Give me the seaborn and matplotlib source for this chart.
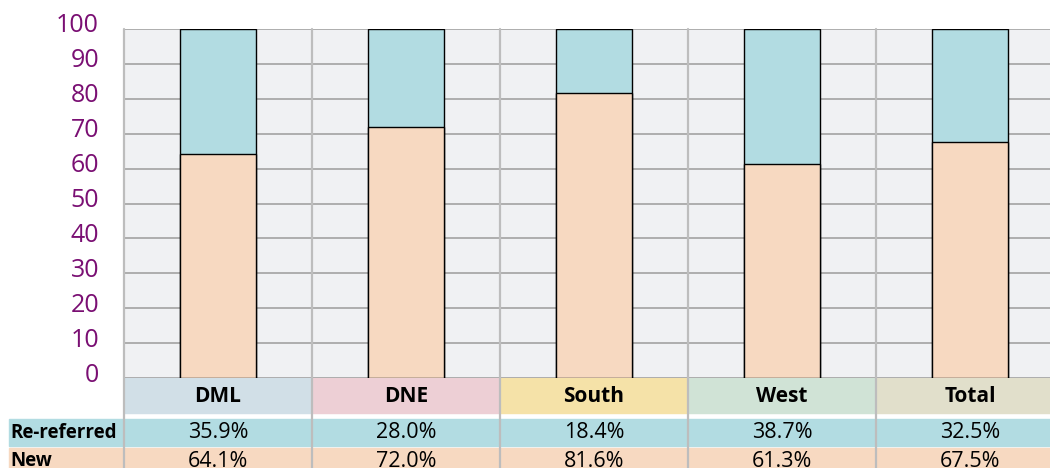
import matplotlib
matplotlib.use("Agg")
import seaborn as sns
import pandas as pd
from matplotlib import pyplot as plt
from matplotlib.patches import Rectangle
from matplotlib.lines import Line2D
import matplotlib.transforms as mtransforms

# data
regions = ["DML", "DNE", "South", "West", "Total"]
re_referred = [35.9, 28.0, 18.4, 38.7, 32.5]
new = [64.1, 72.0, 81.6, 61.3, 67.5]
header_colors = ["#D1DFE7", "#EDCFD5", "#F5E2A8", "#D0E3D6", "#E1DFCB"]

CYAN = "#B2DCE2"
PEACH = "#F7D9C1"
PURPLE = "#7A0F73"

sns.set_style("white")
plt.rcParams["font.family"] = ["Open Sans", "DejaVu Sans"]
plt.rcParams["text.color"] = "black"

df = pd.DataFrame({"region": regions, "re": re_referred, "new": new})
df["total"] = df["re"] + df["new"]

W, H = 1050, 468
fig = plt.figure(figsize=(10.5, 4.68), dpi=100)
# axes in pixel terms: left 124, bottom at y=378, top at y=29, 188px per column
ax = fig.add_axes([124 / W, (H - 378) / H, 5 * 188 / W, 349 / H])
ax.set_facecolor("#F0F1F3")

sns.barplot(data=df, x="region", y="total", color=CYAN, width=0.4,
            edgecolor="black", linewidth=1, saturation=1, ax=ax, zorder=3)
sns.barplot(data=df, x="region", y="new", color=PEACH, width=0.4,
            edgecolor="black", linewidth=1, saturation=1, ax=ax, zorder=4)

ax.set_xlim(-0.5, len(regions) - 0.5)
ax.set_ylim(0, 100)
ax.set_yticks(range(0, 101, 10))
ax.set_xticks([])
ax.set_xlabel("")
ax.set_ylabel("")
ax.yaxis.grid(True, color="#A8A8A8", lw=1.3, zorder=1)
ax.tick_params(axis="y", length=5, width=1.3, color="#A8A8A8",
               labelcolor=PURPLE, labelsize=18, pad=13)
for s in ax.spines.values():
    s.set_visible(False)
# labels sit a little above their grid lines in the original
lift = mtransforms.ScaledTranslation(0, 6 / 100, fig.dpi_scale_trans)
for t in ax.yaxis.get_major_ticks():
    t.label1.set_transform(t.label1.get_transform() + lift)

# table under the chart: x follows the bar axis, y in figure fraction
blend = mtransforms.blended_transform_factory(ax.transData, fig.transFigure)

def fy(px):
    return (H - px) / H

# row bands
ax.add_patch(Rectangle((9 / W, fy(446)), 1, fy(419) - fy(446),
                       transform=fig.transFigure, color=CYAN,
                       clip_on=False, zorder=0))
ax.add_patch(Rectangle((9 / W, fy(475)), 1, fy(448) - fy(475),
                       transform=fig.transFigure, color=PEACH,
                       clip_on=False, zorder=0))
fig.text(10 / W, fy(432.5), "Re-referred", ha="left", va="center",
         fontsize=13.5, fontweight="bold")
fig.text(10 / W, fy(461.5), "New", ha="left", va="center",
         fontsize=13.5, fontweight="bold")

for i, reg in enumerate(regions):
    ax.add_patch(Rectangle((i - 0.5, fy(413)), 1, fy(378) - fy(413),
                           transform=blend, color=header_colors[i],
                           clip_on=False, zorder=0))
    ax.text(i, fy(396.5), reg, transform=blend, ha="center", va="center",
            fontsize=15, fontweight="bold", zorder=5)
    ax.text(i, fy(432.5), f"{re_referred[i]:.1f}%", transform=blend,
            ha="center", va="center", fontsize=15.5, zorder=5)
    ax.text(i, fy(461.5), f"{new[i]:.1f}%", transform=blend,
            ha="center", va="center", fontsize=15.5, zorder=5)

# column separators running from the top of the chart through the table
for i in range(len(regions) + 1):
    ax.add_line(Line2D([i - 0.5, i - 0.5], [fy(29), 0], transform=blend,
                       color="#BDBDBD", lw=1.6, clip_on=False, zorder=2))

fig.savefig("out.png", dpi=100)
